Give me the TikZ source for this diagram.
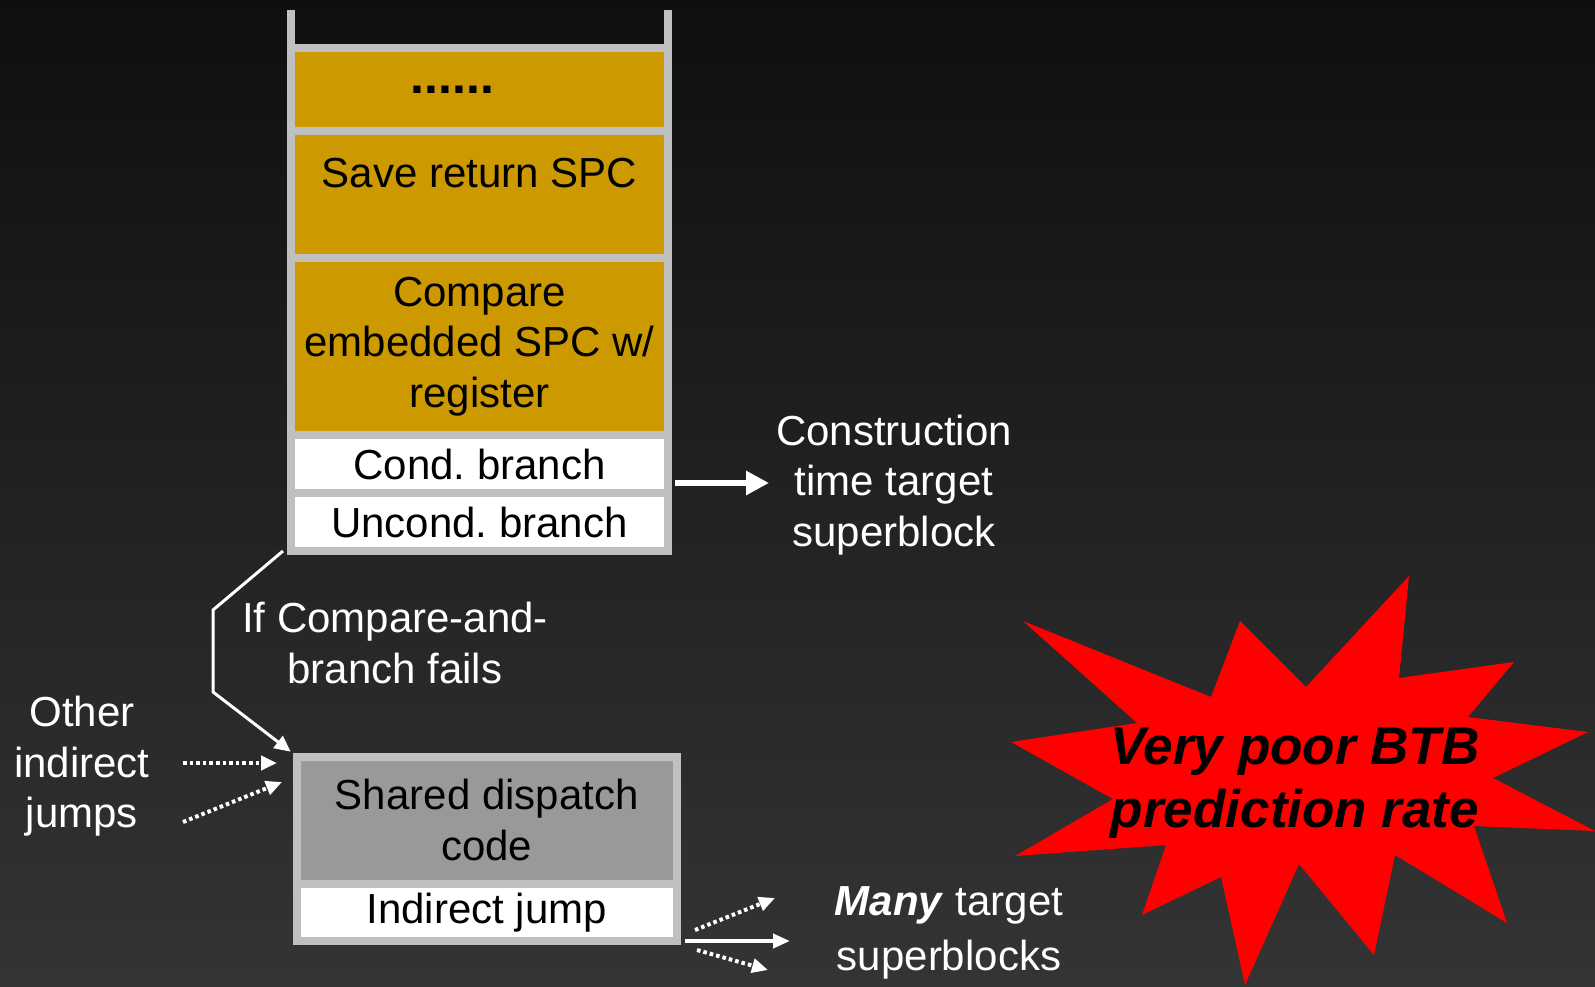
\documentclass[tikz,border=0pt]{standalone}
\usepackage{fontspec}
\setmainfont{Liberation Sans}
\frenchspacing
\usetikzlibrary{arrows.meta,positioning,calc}
\definecolor{bgtop}{HTML}{0F0F0F}
\definecolor{bgmid}{HTML}{282828}
\definecolor{bgbot}{HTML}{343434}
\definecolor{gold}{HTML}{CC9900}
\definecolor{framegray}{HTML}{C0C0C0}
\definecolor{dispatch}{HTML}{999999}

\begin{document}
\begin{tikzpicture}[x=0.5pt,y=-0.5pt,
  every node/.style={font=\fontsize{21}{25.25}\selectfont},
  cell/.style={draw=framegray,line width=4pt,outer sep=0pt,inner sep=0pt,minimum width=188.5pt,align=center,text=black},
  goldcell/.style={cell,fill=gold},
  whitecell/.style={cell,fill=white},
  wall/.style={framegray,line width=4pt},
  wtext/.style={text=white,align=center},
  bigarrow/.style={white,line width=3pt,-{Triangle[length=11.5pt,width=11.5pt]}},
  link/.style={white,line width=1.5pt,-{Triangle[length=8pt,width=7.5pt]}},
  solidarrow/.style={white,line width=2pt,-{Triangle[length=8.5pt,width=7pt]}},
  dotarrow/.style={white,line width=2pt,dash pattern=on 1.8pt off 1.5pt,-{Triangle[length=8pt,width=7pt]}}]
\shade[top color=bgtop,middle color=bgmid,bottom color=bgbot] (0,0) rectangle (1595,986);
\useasboundingbox (0,0) rectangle (1595,986);

\node[goldcell,minimum height=41.5pt] (dots) at (479.5,89.5) {};
\node[goldcell,minimum height=63.5pt,below=0pt of dots] (save) {};
\node[goldcell,minimum height=88.5pt,below=0pt of save] (cmp) {Compare\\embedded SPC w/\\register};
\node[whitecell,minimum height=29pt,below=0pt of cmp] (cond) {Cond. branch};
\node[whitecell,minimum height=29pt,below=0pt of cond] (uncond) {Uncond. branch};
\draw[wall] (dots.north west) -- ++(0,-38);
\draw[wall] (dots.north east) -- ++(0,-38);
\node[font=\fontsize{25}{30}\selectfont\bfseries] (dotstxt) at ([xshift=-13.5pt]dots.center) {......};
\node[anchor=base] (savetxt) at ([yshift=-28pt]save.north) {Save return SPC};

\node[wtext] (constr) at (894,485) {Construction\\time target\\superblock};
\coordinate (c0) at ([xshift=3.5pt,yshift=5pt]cond.south east);
\draw[bigarrow] (c0) -- (c0 -| constr.west);

\node[cell,fill=dispatch,minimum width=189.75pt,minimum height=63.5pt] (shared) at (486.75,820) {Shared dispatch\\code};
\node[whitecell,minimum width=189.75pt,minimum height=28.75pt,below=0pt of shared] (jump) {Indirect jump};

\node[wtext] (iffail) at (395,643) {If Compare-and-\\branch fails};
\draw[link,shorten >=4pt] ([xshift=-4pt]uncond.south west) -- ++(-70,59) -- ++(0,82) -- (shared.north west);

\node[wtext] (other) at (82,766.5) {Other\\indirect\\jumps};
\coordinate (o1) at (183,763);
\coordinate (o2) at (183,822);
\coordinate (o2e) at (282,782);
\draw[dotarrow,shorten >=10pt] (o1) -- (o1 -| shared.west);
\draw[dotarrow] (o2) -- (o2e);

\node[wtext] (many) at (949,933) {\textbf{\textit{Many}} target\\[2.25pt]superblocks};
\coordinate (j0) at ([xshift=4pt]jump.south east);
\coordinate (j1) at (695,930);
\coordinate (j2) at (697,950);
\coordinate (t1) at (775,898);
\coordinate (t2) at (790,941);
\coordinate (t3) at (768,970);
\draw[dotarrow] (j1) -- (t1);
\draw[solidarrow] (j0) -- (t2);
\draw[dotarrow] (j2) -- (t3);

\fill[red] (1409,576) -- (1399,678) -- (1514,662) -- (1468,717) -- (1588,732) -- (1493,778)
  -- (1595,831) -- (1474,826) -- (1507,923) -- (1395,855) -- (1374,955) -- (1299,864)
  -- (1245,985) -- (1221,877) -- (1142,915) -- (1166,845) -- (1015,856) -- (1113,799)
  -- (1011,742) -- (1137,723) -- (1023,621) -- (1211,697) -- (1240,621) -- (1306,687) -- cycle;
\node[align=center,font=\fontsize{26.5}{31.5}\selectfont\bfseries\itshape] (btb) at (1295,783) {Very poor BTB\\prediction rate};
\end{tikzpicture}
\end{document}
